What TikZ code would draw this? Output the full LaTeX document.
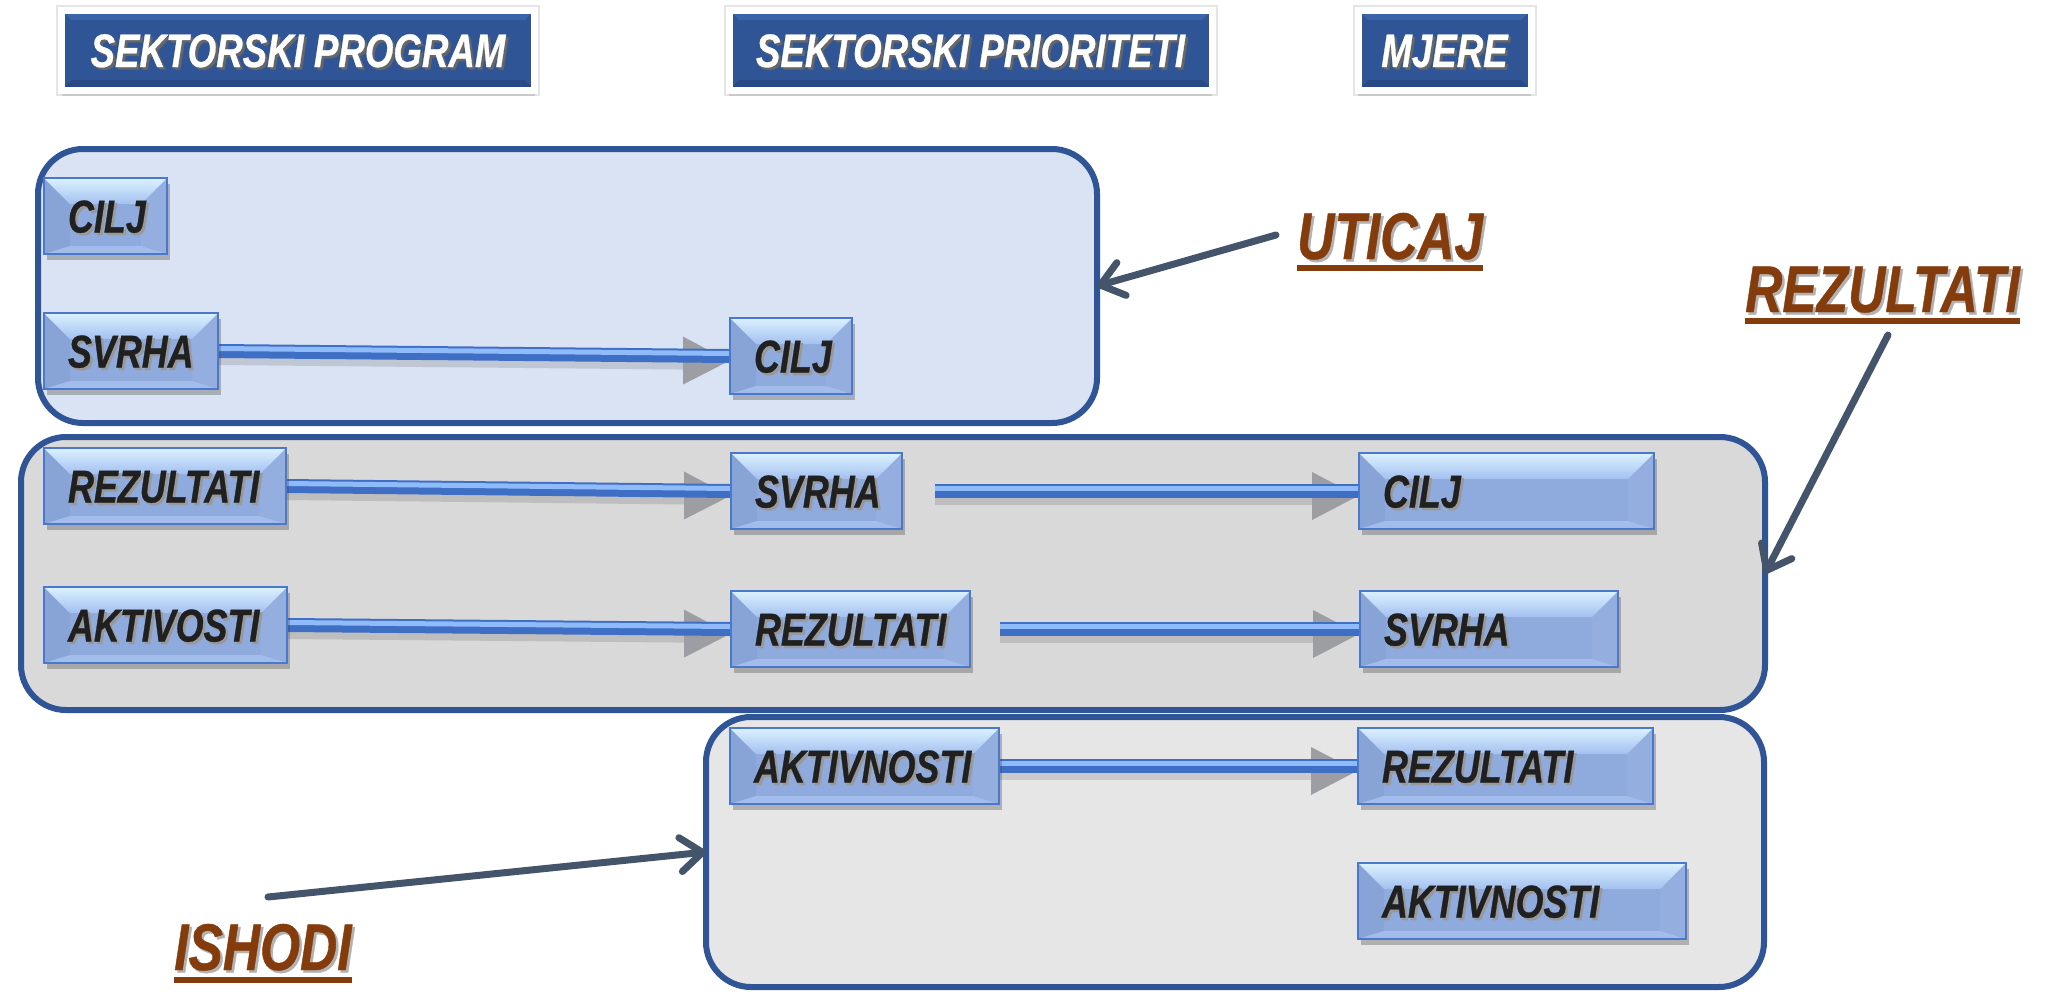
\documentclass[tikz,border=0pt]{standalone}
\usepackage{fontspec}
\newfontfamily\lsf{Liberation Sans}[FakeStretch=0.78, FakeBold=0.6]
\usetikzlibrary{arrows.meta,shadows,calc}
\pgfdeclarelayer{bg}\pgfdeclarelayer{mid}\pgfsetlayers{bg,mid,main}
\definecolor{hdrblue}{HTML}{2F5597}
\definecolor{hdrlight}{HTML}{3C64AA}
\definecolor{hdrdark}{HTML}{274A86}
\definecolor{boxline}{HTML}{2F5597}
\definecolor{fillA}{HTML}{DAE3F3}
\definecolor{fillB}{HTML}{D9D9D9}
\definecolor{fillC}{HTML}{E6E6E6}
\definecolor{nodebase}{HTML}{8FAADC}
\definecolor{nodetop}{HTML}{DCF2FF}
\definecolor{nodemid}{HTML}{A3C0F0}
\definecolor{nodeleft}{HTML}{88A3D6}
\definecolor{noderight}{HTML}{93AEDF}
\definecolor{nodebot}{HTML}{A2BDEB}
\definecolor{nodeline}{HTML}{4A78CC}
\definecolor{slate}{HTML}{44546A}
\definecolor{brownlbl}{HTML}{843C0C}
\definecolor{barblue}{HTML}{4A7FD6}
\definecolor{barlight}{HTML}{90BBFA}
\definecolor{bardark}{HTML}{3F6FC4}
\definecolor{innertext}{HTML}{202020}
\definecolor{shadegrey}{HTML}{9C9EA3}
\newcommand\tsh[2]{\makebox[0pt][l]{\raisebox{-2.5pt}{\hspace{2.5pt}\textcolor{#1}{#2}}}#2}
\tikzset{
  innerbevel/.style={path picture={
    \coordinate (pnw) at (path picture bounding box.north west);
    \coordinate (pse) at (path picture bounding box.south east);
    \coordinate (pne) at (pnw -| pse);
    \coordinate (psw) at (pnw |- pse);
    \fill[nodeleft] (pnw) -- ($(pnw)+(26,26)$) -- ($(psw)+(26,-8)$) -- (psw) -- cycle;
    \fill[noderight] (pne) -- ($(pne)+(-26,26)$) -- ($(pse)+(-26,-8)$) -- (pse) -- cycle;
    \fill[nodebot] (psw) -- ($(psw)+(26,-8)$) -- ($(pse)+(-26,-8)$) -- (pse) -- cycle;
    \shade[top color=nodetop, bottom color=nodemid] (pnw) -- (pne) -- ($(pne)+(-26,26)$) -- ($(pnw)+(26,26)$) -- cycle;
  }},
  hdrbevel/.style={path picture={
    \coordinate (pnw) at (path picture bounding box.north west);
    \coordinate (pse) at (path picture bounding box.south east);
    \coordinate (pne) at (pnw -| pse);
    \coordinate (psw) at (pnw |- pse);
    \fill[hdrlight] (pnw) -- (pne) -- ($(pne)+(-10,10)$) -- ($(pnw)+(10,10)$) -- cycle;
    \fill[hdrdark] (psw) -- ($(psw)+(10,-10)$) -- ($(pse)+(-10,-10)$) -- (pse) -- cycle;
  }},
  innerbox/.style={draw=nodeline, line width=2pt, fill=nodebase, innerbevel,
    inner xsep=24pt, inner ysep=0pt, minimum height=76pt, text height=33pt, text depth=0pt,
    align=left, anchor=north west, text=innertext, text width=#1,
    font=\lsf\bfseries\itshape\fontsize{46}{50}\selectfont,
    drop shadow={shadow xshift=3pt, shadow yshift=-6pt, opacity=0.35, fill=black!70}},
  hdrbox/.style={draw=white, line width=7pt, fill=hdrblue, hdrbevel, inner sep=0pt,
    minimum height=80pt, minimum width=#1, text=white, text height=34pt, text depth=0pt,
    font=\lsf\bfseries\itshape\fontsize{47}{50}\selectfont,
    preaction={draw=black!10, line width=11pt},
    drop shadow={shadow xshift=0pt, shadow yshift=-6pt, opacity=0.22, fill=black!60}},
  container/.style={draw=boxline, line width=6pt, rounded corners=45pt, inner sep=0pt, outer sep=0pt},
  lbl/.style={inner sep=0pt, text=brownlbl, font=\lsf\bfseries\itshape\fontsize{66}{70}\selectfont},
  flowsh/.style={draw=black, opacity=0.12, line width=14pt, transform canvas={yshift=-7pt}},
  flowtri/.style={fill=shadegrey, transform canvas={yshift=-5pt}},
  flowbar/.style={draw=bardark, line width=14pt},
  flowhi/.style={draw=barlight, line width=5pt, transform canvas={yshift=2.5pt}},
  slatearrow/.style={draw=slate, line width=7pt, line cap=round, -{Straight Barb[length=22pt,width=34pt,round]}}
}
\newcommand\flowcon[3][0pt]{%
  \draw[flowsh, shorten <=#1, shorten >=40pt] (#2.east) -- (#3.west);
  \fill[flowtri] (#3.west) -- ($($(#3.west)!46pt!(#2.east)$)+(0,-24)$) -- ($($(#3.west)!46pt!(#2.east)$)+(0,24)$) -- cycle;
  \draw[flowbar, shorten <=#1] (#2.east) -- (#3.west);
  \draw[flowhi, shorten <=#1] (#2.east) -- (#3.west);}
\begin{document}
\begin{tikzpicture}[x=1pt,y=-1pt]
\useasboundingbox (0,0) rectangle (2046,991);
% containers
\begin{pgfonlayer}{bg}
\fill[white] (0,0) rectangle (2046,991);
\node[container, fill=fillA, minimum width=1059pt, minimum height=274pt] (box1) at (567.5,286) {};
\node[container, fill=fillB, minimum width=1744pt, minimum height=273pt] (box2) at (893,573.5) {};
\node[container, fill=fillC, minimum width=1058pt, minimum height=270pt] (box3) at (1235,852) {};
\end{pgfonlayer}
% headers
\node[hdrbox=473pt] (h1) at (298,50) {\tsh{black!60}{SEKTORSKI PROGRAM}};
\node[hdrbox=483pt] (h2) at (970.5,50) {\tsh{black!60}{SEKTORSKI PRIORITETI}};
\node[hdrbox=173pt] (h3) at (1444.5,50) {\tsh{black!60}{MJERE}};
% inner nodes (text width = width - 48)
\node[innerbox=75pt]  (n1)  at (43,177)   {\tsh{black!40}{CILJ}};
\node[innerbox=126pt] (n2)  at (43,312)   {\tsh{black!40}{SVRHA}};
\node[innerbox=74pt]  (n3)  at (729,317)  {\tsh{black!40}{CILJ}};
\node[innerbox=194pt] (n4)  at (43,447)   {\tsh{black!40}{REZULTATI}};
\node[innerbox=123pt] (n5)  at (730,452)  {\tsh{black!40}{SVRHA}};
\node[innerbox=247pt] (n6)  at (1358,452) {\tsh{black!40}{CILJ}};
\node[innerbox=195pt] (n7)  at (43,586)   {\tsh{black!40}{AKTIVOSTI}};
\node[innerbox=191pt] (n8)  at (730,590)  {\tsh{black!40}{REZULTATI}};
\node[innerbox=210pt] (n9)  at (1359,590) {\tsh{black!40}{SVRHA}};
\node[innerbox=221pt] (n10) at (729,727)  {\tsh{black!40}{AKTIVNOSTI}};
\node[innerbox=247pt] (n11) at (1357,727) {\tsh{black!40}{REZULTATI}};
\node[innerbox=280pt] (n12) at (1357,862) {\tsh{black!40}{AKTIVNOSTI}};
% flow connectors
\begin{pgfonlayer}{mid}
\flowcon{n2}{n3}
\flowcon{n4}{n5}
\flowcon[32pt]{n5}{n6}
\flowcon{n7}{n8}
\flowcon[29pt]{n8}{n9}
\flowcon{n10}{n11}
\end{pgfonlayer}
% labels
\node[lbl, anchor=base west] (uticaj) at (1297,259) {\tsh{black!30}{UTICAJ}};
\node[lbl, anchor=base west] (rez) at (1745,312) {\tsh{black!30}{REZULTATI}};
\node[lbl, anchor=base west] (ishodi) at (174,970) {\tsh{black!30}{ISHODI}};
\fill[brownlbl] ($(uticaj.base west)+(0,6)$) rectangle ($(uticaj.base east)+(0,12)$);
\fill[brownlbl] ($(rez.base west)+(0,6)$) rectangle ($(rez.base east)+(0,12)$);
\fill[brownlbl] ($(ishodi.base west)+(0,7)$) rectangle ($(ishodi.base east)+(0,13)$);
% pointer arrows
\coordinate (ut0) at (1276,235);
\coordinate (rz0) at (1888,335);
\coordinate (is0) at (268,897);
\draw[slatearrow] (ut0) -- (box1.east);
\draw[slatearrow] (rz0) -- (box2.east);
\draw[slatearrow] (is0) -- (box3.west);
\end{tikzpicture}
\end{document}
